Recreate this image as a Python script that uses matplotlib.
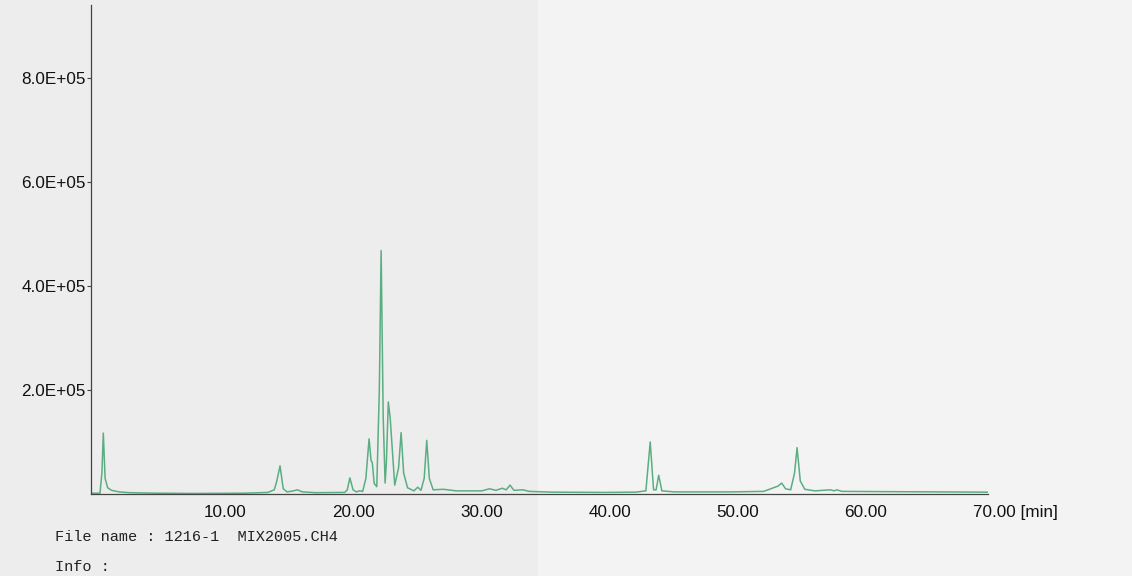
import matplotlib
matplotlib.use("Agg")
from matplotlib import pyplot as plt
from matplotlib import transforms
from matplotlib.patches import Rectangle

# chromatogram trace: time [min], signal
time = [0.0, 0.7, 0.85, 0.96, 1.1, 1.3, 1.6, 2.2, 3.0, 5.0, 8.0, 12.0,
        13.8, 14.3, 14.5, 14.75, 15.0, 15.3, 15.8, 16.1, 16.5, 17.5,
        19.8, 20.0, 20.2, 20.45, 20.7, 20.95, 21.2, 21.45, 21.7, 21.85,
        21.95, 22.1, 22.3, 22.5, 22.64, 22.8, 22.95, 23.05, 23.2, 23.35,
        23.5, 23.7, 24.0, 24.2, 24.4, 24.7, 25.2, 25.5, 25.75, 26.0,
        26.2, 26.4, 26.7, 27.5, 28.5, 30.5, 31.1, 31.6, 32.1, 32.4,
        32.7, 33.0, 33.7, 34.2, 36.0, 40.0, 42.5, 43.3, 43.64, 43.9,
        44.1, 44.3, 44.55, 45.5, 50.0, 52.5, 53.6, 53.9, 54.2, 54.6,
        54.9, 55.1, 55.35, 55.7, 56.5, 57.7, 58.0, 58.2, 58.6, 62.0,
        66.0, 70.0]
signal = [1500, 1500, 40000, 117000, 30000, 12000, 7000, 4000, 2500, 1500, 1000, 1500,
          3000, 8000, 25000, 54000, 10000, 4000, 6000, 8000, 4000, 2500,
          3000, 8000, 31000, 8000, 4000, 6000, 5000, 30000, 106000, 65000,
          60000, 20000, 14000, 200000, 468000, 150000, 21000, 60000, 177000, 145000,
          90000, 17000, 50000, 118000, 40000, 12000, 6000, 13000, 7000, 30000,
          103000, 30000, 8000, 9000, 6000, 6000, 10000, 7000, 11000, 8000,
          17000, 7000, 8000, 5000, 3500, 3000, 3500, 6000, 100000, 8000,
          8000, 36000, 6000, 4000, 4000, 5000, 15000, 21000, 10000, 8000,
          40000, 89000, 25000, 9000, 6000, 8000, 6000, 8000, 5000, 4500,
          4000, 3500]

x_ticks = [10, 20, 30, 40, 50, 60]
x_labels = ["10.00", "20.00", "30.00", "40.00", "50.00", "60.00"]
y_ticks = [200000, 400000, 600000, 800000]
y_labels = ["2.0E+05", "4.0E+05", "6.0E+05", "8.0E+05"]

fig = plt.figure(figsize=(11.32, 5.76), dpi=100, facecolor="#ededed")
# slightly whiter paper on the right half of the scan
fig.patches.append(Rectangle((0.475, 0), 0.525, 1, transform=fig.transFigure,
                             facecolor="#f3f3f3", edgecolor="none", zorder=-10))
ax = fig.add_axes([0.0804, 0.1424, 0.7924, 0.8489])
ax.set_facecolor("none")

ax.plot(time, signal, color="#5aae82", lw=1.1)

ax.set_xlim(0, 70)
ax.set_ylim(0, 940000)
ax.spines["top"].set_visible(False)
ax.spines["right"].set_visible(False)
ax.spines["left"].set_color("#444444")
ax.spines["bottom"].set_color("#444444")
ax.spines["left"].set_linewidth(0.9)
ax.spines["bottom"].set_linewidth(0.9)

ax.set_yticks(y_ticks)
ax.set_yticklabels(y_labels, fontsize=12.3, color="#111111", family="Liberation Sans")
ax.tick_params(axis="y", length=3, pad=1, color="#444444")

ax.set_xticks(x_ticks)
ax.set_xticklabels(x_labels, fontsize=12.3, color="#111111", family="Liberation Sans")
ax.tick_params(axis="x", length=0, pad=8)
shift = transforms.ScaledTranslation(6 / 100, 0, fig.dpi_scale_trans)
for lbl in ax.get_xticklabels():
    lbl.set_transform(lbl.get_transform() + shift)

ax.text(68.85, -0.038, "70.00 [min]", transform=ax.get_xaxis_transform(),
        ha="left", va="center", fontsize=12.3, color="#111111", family="Liberation Sans")

fig.text(55 / 1132, 1 - 537 / 576, "File name : 1216-1  MIX2005.CH4",
         family="Liberation Mono", fontsize=11, color="#222222", va="center")
fig.text(55 / 1132, 1 - 567 / 576, "Info :",
         family="Liberation Mono", fontsize=11, color="#222222", va="center")

fig.savefig("out.png", dpi=100, facecolor=fig.get_facecolor())
